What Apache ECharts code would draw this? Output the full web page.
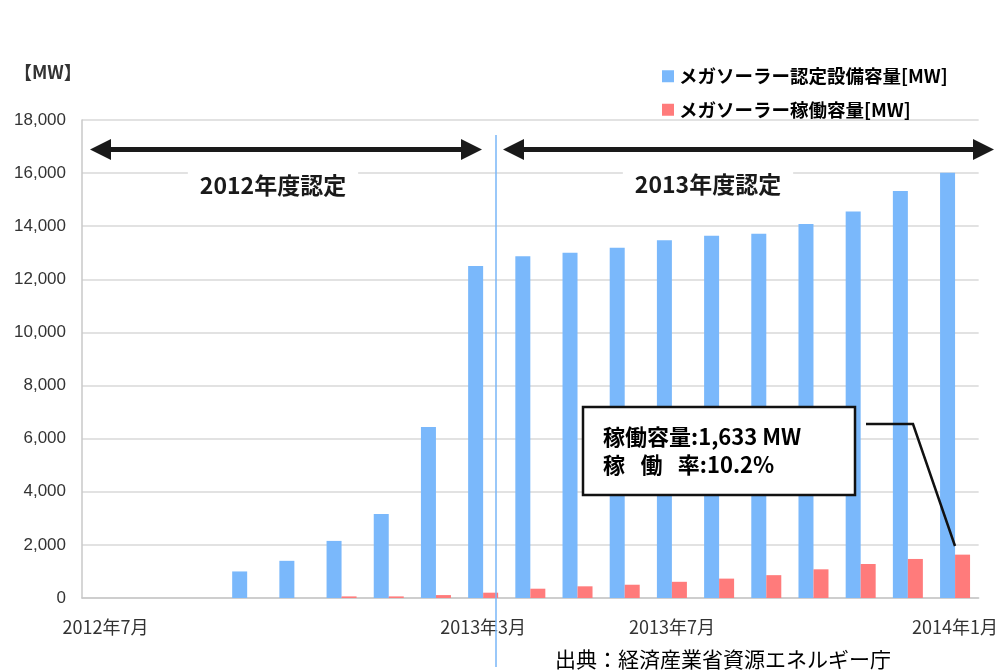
<!DOCTYPE html>
<html>
<head>
<meta charset="utf-8">
<script src="https://cdn.jsdelivr.net/npm/echarts@6/dist/echarts.min.js"></script>
<style>
html,body{margin:0;padding:0;background:#fff;}
#main{width:1001px;height:672px;}
</style>
</head>
<body>
<div id="main"></div>
<script>
var categories = ['2012年7月','2012年8月','2012年9月','2012年10月','2012年11月','2012年12月','2013年1月','2013年2月','2013年3月','2013年4月','2013年5月','2013年6月','2013年7月','2013年8月','2013年9月','2013年10月','2013年11月','2013年12月','2014年1月'];
var certified = [0,0,0,1000,1400,2150,3160,6440,12500,12870,13000,13190,13470,13640,13720,14080,14550,15330,16010];
var operating = [0,0,0,0,0,60,60,110,200,350,440,500,610,730,860,1080,1280,1470,1633];
var shownLabels = ['2012年7月','2013年3月','2013年7月','2014年1月'];
var seriesNames = ['メガソーラー認定設備容量[MW]','メガソーラー稼働容量[MW]'];

var chart = echarts.init(document.getElementById('main'));
var jp = "'Noto Sans CJK JP', sans-serif";
var gap = '\u2002\u2009';
var option = {
  backgroundColor: '#fff',
  animation: false,
  textStyle: {fontFamily: jp},
  grid: {left: 82, right: 21, top: 120, bottom: 74, containLabel: false},
  legend: {
    orient: 'vertical', left: 657, top: 62, itemGap: 15,
    icon: 'rect', itemWidth: 12, itemHeight: 12,
    textStyle: {fontSize: 18.5, fontWeight: 'bold', color: '#000', fontFamily: jp},
    data: seriesNames
  },
  xAxis: {
    type: 'category', data: categories,
    axisLine: {lineStyle: {color: '#c8c8c8', width: 1.5}},
    axisTick: {show: false},
    axisLabel: {
      interval: function(i, v){ return shownLabels.indexOf(v) >= 0; },
      color: '#333', fontSize: 18, margin: 20, fontFamily: jp
    }
  },
  yAxis: {
    type: 'value', min: 0, max: 18000, interval: 2000,
    axisLine: {show: true, lineStyle: {color: '#c8c8c8', width: 1.5}},
    axisTick: {show: false},
    splitLine: {lineStyle: {color: '#d9d9d9', width: 1.5}},
    axisLabel: {
      color: '#333', fontSize: 17, margin: 16, fontFamily: "'Liberation Sans', sans-serif",
      formatter: function(v){ return v.toLocaleString('en-US'); }
    }
  },
  series: [
    {name: seriesNames[0], type: 'bar', data: certified, barWidth: 15, barGap: '0%',
     itemStyle: {color: '#7ab8fb'}},
    {name: seriesNames[1], type: 'bar', data: operating, barWidth: 15,
     itemStyle: {color: '#ff7b7b'}}
  ],
  graphic: [
    {type: 'text', left: 14, top: 63, style: {text: '【MW】', font: "bold 18px " + jp, fill: '#333'}},
    // vertical divider
    {type: 'line', shape: {x1: 496, y1: 135, x2: 496, y2: 667}, style: {stroke: '#79b6f7', lineWidth: 1.5}, z: 100},
    // left arrow
    {type: 'line', shape: {x1: 100, y1: 149.5, x2: 470, y2: 149.5}, style: {stroke: '#1a1a1a', lineWidth: 5}, z: 100},
    {type: 'polygon', shape: {points: [[90,149.5],[111,139],[111,160]]}, style: {fill: '#1a1a1a'}, z: 100},
    {type: 'polygon', shape: {points: [[482,149.5],[461,139],[461,160]]}, style: {fill: '#1a1a1a'}, z: 100},
    // right arrow
    {type: 'line', shape: {x1: 512, y1: 149.5, x2: 982, y2: 149.5}, style: {stroke: '#1a1a1a', lineWidth: 5}, z: 100},
    {type: 'polygon', shape: {points: [[503,149.5],[524,139],[524,160]]}, style: {fill: '#1a1a1a'}, z: 100},
    {type: 'polygon', shape: {points: [[994,149.5],[973,139],[973,160]]}, style: {fill: '#1a1a1a'}, z: 100},
    // period labels
    {type: 'text', x: 273, y: 185, z: 100, style: {text: '2012年度認定', font: "bold 23px " + jp, fill: '#1a1a1a', align: 'center', verticalAlign: 'middle', backgroundColor: '#fff', padding: [2, 12]}},
    {type: 'text', x: 708, y: 184, z: 100, style: {text: '2013年度認定', font: "bold 23px " + jp, fill: '#1a1a1a', align: 'center', verticalAlign: 'middle', backgroundColor: '#fff', padding: [2, 12]}},
    // callout
    {type: 'polyline', shape: {points: [[866,424],[913,424],[955,546]]}, style: {stroke: '#111', lineWidth: 2.5, fill: null}, z: 100},
    {type: 'rect', shape: {x: 583, y: 407, width: 272, height: 88}, style: {fill: '#fff', stroke: '#111', lineWidth: 2.5}, z: 100},
    {type: 'text', x: 603, y: 437, z: 101, style: {text: '稼働容量:1,633 MW', font: "bold 22px " + jp, fill: '#000', verticalAlign: 'middle'}},
    {type: 'text', x: 603, y: 465, z: 101, style: {text: '稼' + gap + '働' + gap + '率:10.2%', font: "bold 22px " + jp, fill: '#000', verticalAlign: 'middle'}},
    // source
    {type: 'text', x: 555, y: 649, z: 100, style: {text: '出典：経済産業省資源エネルギー庁', font: "21px " + jp, fill: '#000'}}
  ]
};
chart.setOption(option);
</script>
</body>
</html>
